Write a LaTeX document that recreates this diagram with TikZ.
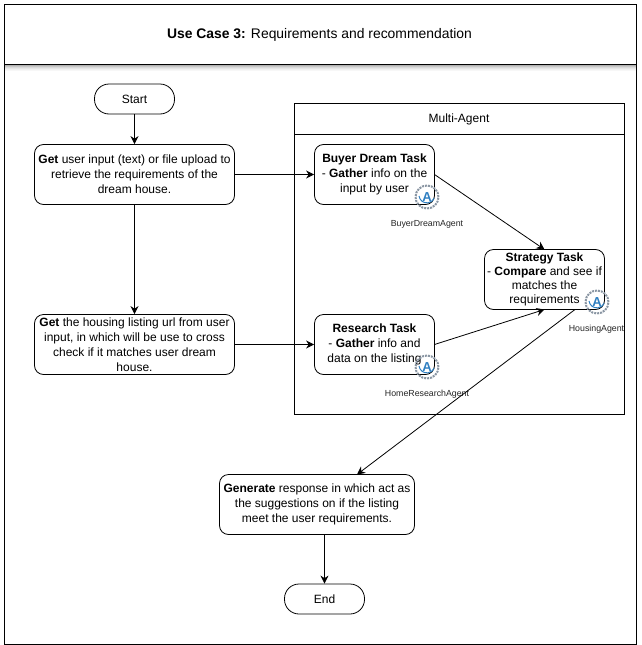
\documentclass[tikz,border=0pt]{standalone}
\usepackage{fontspec}
\setmainfont{Liberation Sans}
\usetikzlibrary{arrows.meta,calc}
\definecolor{iconblue}{HTML}{2F7FC1}
\definecolor{icongrey}{HTML}{8A96A3}
\tikzset{
  x=1pt,y=-1pt,
  box/.style={draw=black,line width=0.8pt,rounded corners=9pt,align=center,inner sep=0pt,font=\fontsize{12}{15}\selectfont},
  term/.style={draw=black,line width=0.8pt,rounded corners=14.5pt,minimum width=80pt,minimum height=30pt,inner sep=0pt,font=\fontsize{12}{14}\selectfont},
  frame/.style={draw=black,line width=0.8pt},
  flow/.style={draw=black,line width=0.8pt,-{Stealth[length=8pt,width=8pt]}},
  agentlabel/.style={inner sep=0pt,font=\fontsize{8.8}{10}\selectfont,text=black!85},
  agentring/.style={circle,draw=icongrey,densely dotted,line width=2pt,minimum size=23pt,inner sep=0pt},
  agentletter/.style={inner sep=0pt,text=iconblue,font=\bfseries\fontsize{13}{13}\selectfont},
  agentarc/.style={draw=iconblue,line width=1pt}
}
\newcommand{\agenticon}[2]{%
  \node[agentring] (#1) at #2 {};
  \node[agentletter] (#1L) at #2 {A};
  \draw[agentarc] ($#2+(-8,-1)$) arc[start angle=172,end angle=25,radius=8];
}
\begin{document}
\begin{tikzpicture}
\useasboundingbox (0,0) rectangle (641,645);
\fill[white] (0,0) rectangle (641,645);
% header shadow
\foreach \i/\o in {0/0.30,1/0.22,2/0.15,3/0.10,4/0.06,5/0.03}{
  \fill[black,opacity=\o] (5,65+\i) rectangle (636,66+\i);
}
% outer frame
\draw[frame] (4.5,4.5) rectangle (636.5,644);
\draw[frame] (4.5,64.5) -- (636.5,64.5);
\node[inner sep=0pt,font=\fontsize{13.9}{16}\selectfont] (title) at (319.5,35) {\textbf{Use Case 3:} Requirements and recommendation};
% multi-agent container
\draw[frame] (294.5,103.5) rectangle (624,414);
\draw[frame] (294.5,134) -- (624,134);
\node[inner sep=0pt,font=\fontsize{12}{14}\selectfont] (multi) at (459,119) {Multi-Agent};
% nodes
\node[term] (start) at (134.5,99) {Start};
\node[box,minimum width=200pt,minimum height=60pt] (get1) at (134.5,174.5) {\textbf{Get} user input (text) or file upload to\\retrieve the requirements of the\\dream house.};
\node[box,minimum width=200pt,minimum height=60pt] (get2) at (134.5,344.5) {\textbf{Get} the housing listing url from user\\input, in which will be use to cross\\check if it matches user dream\\house.};
\node[box,minimum width=120pt,minimum height=60pt] (buyer) at (374.5,174.5) {\textbf{Buyer Dream Task}\\- \textbf{Gather} info on the\\input by user};
\node[box,minimum width=120pt,minimum height=60pt] (research) at (374.5,344.5) {\textbf{Research Task}\\- \textbf{Gather} info and\\data on the listing};
\node[box,minimum width=120pt,minimum height=60pt,font=\fontsize{12}{14.2}\selectfont] (strategy) at (544.5,279.5) {\textbf{Strategy Task}\\- \textbf{Compare} and see if\\matches the\\requirements};
\node[box,minimum width=195pt,minimum height=60pt] (generate) at (317,504.5) {\textbf{Generate} response in which act as\\the suggestions on if the listing\\meet the user requirements.};
\node[term] (end) at (324.5,599) {End};
% icons and labels
\agenticon{iconB}{(427,197)}
\agenticon{iconR}{(427,367)}
\agenticon{iconS}{(597,302)}
\node[agentlabel] (labB) at (427,224) {BuyerDreamAgent};
\node[agentlabel] (labR) at (427,394) {HomeResearchAgent};
\node[agentlabel] (labS) at (596.5,329) {HousingAgent};
% connectors
\draw[flow] (start) -- (get1);
\draw[flow] (get1) -- (get2);
\draw[flow] (get1.east) -- (buyer.west);
\draw[flow] (get2.east) -- (research.west);
\coordinate (stratTop) at (544.5,249.5);
\coordinate (stratBottom) at (544.5,309.5);
\coordinate (buyerOut) at (434.5,174.5);
\coordinate (researchOut) at (434.5,344.5);
\coordinate (stratOut) at (575,309.5);
\coordinate (genIn) at (357,474.5);
\coordinate (genOut) at (324.5,534.5);
\draw[flow] (buyerOut) -- (stratTop);
\draw[flow] (researchOut) -- (stratBottom);
\draw[flow] (stratOut) -- (genIn);
\draw[flow] (genOut) -- (end.north);
\end{tikzpicture}
\end{document}
